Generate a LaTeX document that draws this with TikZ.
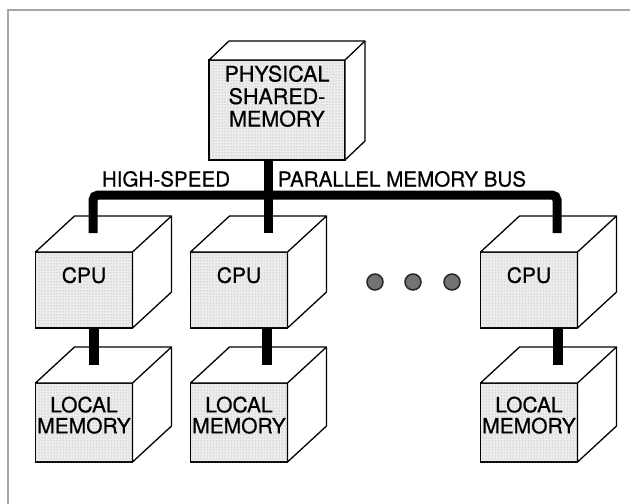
\documentclass[tikz,border=0pt]{standalone}
\usepackage{fontspec}
\setmainfont{TeX Gyre Heros}[FakeBold=0.6]
\usetikzlibrary{calc,patterns}
\tikzstyle{face} = [draw=black, line width=1.3pt, fill=gray!14,
    postaction={pattern=dots, pattern color=gray!80},
    inner sep=0pt, outer sep=0pt, align=center,
    font=\fontsize{21}{21}\selectfont]
\tikzstyle{cpu-face} = [face, minimum width=97pt, minimum height=76pt, text depth=30pt]
\tikzstyle{mem-face} = [face, minimum width=97pt, minimum height=79pt, text depth=15pt]
\tikzstyle{side} = [draw=black, line width=1.3pt, fill=white, line join=round]
\tikzstyle{bus} = [line width=9pt, draw=black]
\tikzstyle{bus-label} = [font=\fontsize{20.6}{22}\selectfont]
\tikzstyle{dot} = [circle, draw=black!85, fill=black!55, line width=1.5pt,
    minimum size=16pt, inner sep=0pt]
\newcommand{\boxsides}[3]{%
  \draw[side] (#1.north west) -- ++(#2,#3) -- ($(#1.north east)+(#2,#3)$)
    -- ($(#1.south east)+(#2,#3)$) -- (#1.south east) -- (#1.north east) -- cycle;
  \draw[side] (#1.north east) -- ++(#2,#3);}

\begin{document}
\begin{tikzpicture}[x=1pt,y=-1pt]
\useasboundingbox (0,0) rectangle (630,504);
\draw[gray!70, line width=2pt] (8,504) -- (8,10) -- (630,10);

% shared memory
\node [face, minimum width=136pt, minimum height=100pt, text depth=28pt,
    font=\fontsize{21.5}{22.5}\selectfont] (phys) at (277,110)
    {PHYSICAL\\SHARED-\\MEMORY};
\boxsides{phys}{20}{-19}

% processors
\node [cpu-face] (cpu1) at (84,290) {CPU};
\node [cpu-face] (cpu2) at (239,290) {CPU};
\node [cpu-face] (cpu3) at (529,290) {CPU};
\boxsides{cpu1}{39}{-36}
\boxsides{cpu2}{39}{-36}
\boxsides{cpu3}{39}{-36}

% local memories
\node [mem-face] (mem1) at (84,422.5) {LOCAL\\MEMORY};
\node [mem-face] (mem2) at (239,422.5) {LOCAL\\MEMORY};
\node [mem-face] (mem3) at (529,422.5) {LOCAL\\MEMORY};
\boxsides{mem1}{39}{-36}
\boxsides{mem2}{39}{-36}
\boxsides{mem3}{39}{-36}

\foreach \x [count=\i] in {375,413,452}
    \node [dot] (dot\i) at (\x,282) {};

% bus
\coordinate (busline) at (0,195);
\coordinate (drop1) at (93,233);
\coordinate (drop2) at (268,233);
\coordinate (drop3) at (557,233);
\draw [bus, rounded corners=5pt] (drop1) -- (drop1 |- busline)
    -- (drop3 |- busline) -- (drop3);
\draw [bus] (phys.south -| drop2) -- (drop2);
\node [bus-label] (hs) at (166,179) {HIGH-SPEED};
\node [bus-label] (pmb) at (402,179) {PARALLEL MEMORY BUS};

% cpu to local memory
\coordinate (top1) at (94,365);
\coordinate (top2) at (267,365);
\coordinate (top3) at (558,365);
\draw [bus, line width=10pt] (cpu1.south -| top1) -- (top1);
\draw [bus, line width=10pt] (cpu2.south -| top2) -- (top2);
\draw [bus, line width=10pt] (cpu3.south -| top3) -- (top3);
\end{tikzpicture}
\end{document}
